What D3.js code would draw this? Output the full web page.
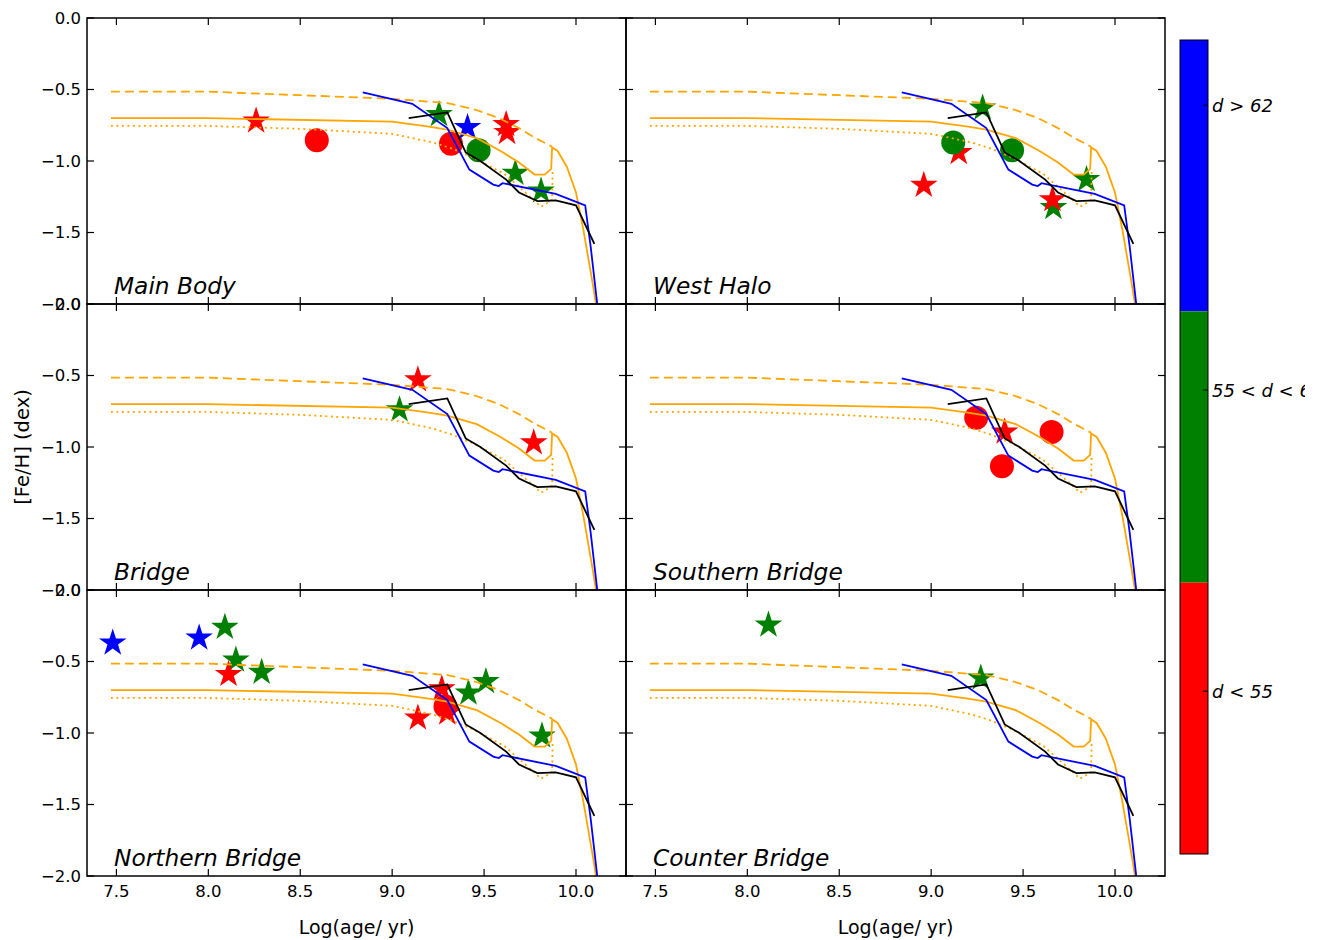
<!DOCTYPE html>
<html>
<head>
<meta charset="utf-8">
<script src="https://cdn.jsdelivr.net/npm/d3@7"></script>
<style>
  body { margin: 0; background: #fff; }
  text { font-family: "DejaVu Sans", sans-serif; }
</style>
</head>
<body>
<div id="chart"></div>
<script>
// Panel names, in reading order (left→right, top→bottom)
const panelNames = ['Main Body', 'West Halo', 'Bridge', 'Southern Bridge', 'Northern Bridge', 'Counter Bridge'];

const xTicks = [7.5, 8.0, 8.5, 9.0, 9.5, 10.0];
const yTicks = [0, -0.5, -1.0, -1.5, -2.0];

// Age-metallicity relations (same in every panel): [log age, [Fe/H]]
const orangeSolid = [[7.47,-0.70],[8.0,-0.70],[9.0,-0.725],[9.20,-0.76],[9.30,-0.78],[9.46,-0.84],[9.59,-0.93],
  [9.69,-1.01],[9.775,-1.095],[9.83,-1.095],[9.865,-1.055],[9.87,-0.905],[9.90,-0.93],[9.95,-1.04],
  [10.0,-1.22],[10.04,-1.48],[10.09,-1.85],[10.115,-2.05]];
const orangeDashed = [[7.47,-0.515],[8.0,-0.515],[8.5,-0.54],[9.0,-0.565],[9.3,-0.595],[9.45,-0.64],
  [9.58,-0.70],[9.69,-0.77],[9.78,-0.84],[9.87,-0.90]];
const orangeDotted = [[7.47,-0.755],[8.0,-0.755],[8.5,-0.775],[9.0,-0.81],[9.22,-0.87],[9.33,-0.915],
  [9.44,-0.975],[9.61,-1.09],[9.755,-1.255],[9.81,-1.32],[9.85,-1.29],[9.87,-1.27],[9.873,-1.06]];
const blueLine = [[8.84,-0.52],[9.11,-0.60],[9.30,-0.77],[9.42,-1.06],[9.55,-1.165],[9.58,-1.175],[9.60,-1.155],
  [9.89,-1.23],[10.05,-1.31],[10.08,-1.60],[10.12,-2.05]];
const blackLine = [[9.09,-0.70],[9.30,-0.66],[9.40,-0.94],[9.48,-1.0],[9.62,-1.13],[9.69,-1.22],[9.79,-1.28],
  [9.89,-1.275],[10.0,-1.31],[10.10,-1.58]];

// Clusters per panel: [log age, [Fe/H], distance class, marker]
const mainBody = [[8.26,-0.72,'near','star'],[8.59,-0.855,'near','circle'],[9.255,-0.675,'mid','star'],
  [9.32,-0.88,'near','circle'],[9.41,-0.765,'far','star'],[9.47,-0.925,'mid','circle'],
  [9.62,-0.745,'near','star'],[9.625,-0.80,'near','star'],[9.67,-1.085,'mid','star'],[9.81,-1.21,'mid','star']];
const westHalo = [[9.28,-0.63,'mid','star'],[9.15,-0.94,'near','star'],[9.12,-0.87,'mid','circle'],
  [8.96,-1.17,'near','star'],[9.44,-0.925,'mid','circle'],[9.845,-1.13,'mid','star'],
  [9.665,-1.325,'mid','star'],[9.66,-1.27,'near','star']];
const bridge = [[9.14,-0.53,'near','star'],[9.04,-0.74,'mid','star'],[9.77,-0.97,'near','star']];
const southernBridge = [[9.245,-0.795,'near','circle'],[9.40,-0.895,'near','star'],
  [9.655,-0.895,'near','circle'],[9.385,-1.135,'near','circle']];
const northernBridge = [[7.48,-0.37,'far','star'],[7.95,-0.335,'far','star'],[8.09,-0.26,'mid','star'],
  [8.15,-0.49,'mid','star'],[8.11,-0.59,'near','star'],[8.29,-0.575,'mid','star'],
  [9.27,-0.69,'near','star'],[9.29,-0.815,'near','circle'],[9.30,-0.86,'near','star'],
  [9.14,-0.895,'near','star'],[9.415,-0.72,'mid','star'],[9.51,-0.64,'mid','star'],[9.815,-1.02,'mid','star']];
const counterBridge = [[8.115,-0.245,'mid','star'],[9.27,-0.615,'mid','star']];
const panelData = [mainBody, westHalo, bridge, southernBridge, northernBridge, counterBridge];

// Colour bar classes, top to bottom, and their tick positions on a 0..3 bar
const cbClasses = ['far', 'mid', 'near'];
const cbColors = ['#0000ff', '#008000', '#ff0000'];
const cbLabels = ['d > 62', '55 < d < 62', 'd < 55'];
const cbTickPos = [2.76, 1.71, 0.60];

const W = 1322, H = 940;
const padLeft = 87, padTop = 18, pw = 539, ph = 286;
const tickLen = 7;

const colorOf = d3.scaleOrdinal().domain(cbClasses).range(cbColors);
const x = d3.scaleLinear().domain([7.34, 10.272]).range([0, pw]);
const y = d3.scaleLinear().domain([-2, 0]).range([ph, 0]);
const fmt = d3.format('.1f');

const svg = d3.select('#chart').append('svg')
  .attr('width', W).attr('height', H)
  .style('background', '#fff');

const defs = svg.append('defs');
defs.append('clipPath').attr('id', 'panelClip')
  .append('rect').attr('width', pw).attr('height', ph);
defs.append('clipPath').attr('id', 'cbClip')
  .append('rect').attr('x', 0).attr('y', 0).attr('width', 1305).attr('height', H);

const line = d3.line().x(d => x(d[0])).y(d => y(d[1]));

panelNames.forEach((name, i) => {
  const col = i % 2, row = Math.floor(i / 2);
  const g = svg.append('g')
    .attr('transform', `translate(${padLeft + col * pw},${padTop + row * ph})`);

  const plot = g.append('g').attr('clip-path', 'url(#panelClip)');

  // markers (drawn first, lines sit on top of them)
  plot.selectAll('path.marker')
    .data(panelData[i])
    .join('path')
    .attr('class', 'marker')
    .attr('transform', d => `translate(${x(d[0])},${y(d[1])})`)
    .attr('d', d => d[3] === 'star'
      ? d3.symbol(d3.symbolStar, 14.5 * 14.5 / 0.8908)()
      : d3.symbol(d3.symbolCircle, Math.PI * 12 * 12)())
    .attr('fill', d => colorOf(d[2]));

  // model tracks
  const tracks = [
    { data: orangeDotted, color: 'orange', dash: '2,3.5' },
    { data: orangeDashed, color: 'orange', dash: '9,5' },
    { data: orangeSolid, color: 'orange', dash: null },
    { data: blueLine, color: '#0000ff', dash: null },
    { data: blackLine, color: '#000', dash: null }
  ];
  tracks.forEach(t => {
    plot.append('path')
      .attr('d', line(t.data))
      .attr('fill', 'none')
      .attr('stroke', t.color)
      .attr('stroke-width', 1.8)
      .attr('stroke-dasharray', t.dash);
  });

  // inward ticks on all four sides
  const tk = g.append('g').attr('stroke', '#000').attr('stroke-width', 1.2);
  xTicks.forEach(v => {
    tk.append('line').attr('x1', x(v)).attr('x2', x(v)).attr('y1', ph).attr('y2', ph - tickLen);
    tk.append('line').attr('x1', x(v)).attr('x2', x(v)).attr('y1', 0).attr('y2', tickLen);
  });
  yTicks.forEach(v => {
    tk.append('line').attr('x1', 0).attr('x2', tickLen).attr('y1', y(v)).attr('y2', y(v));
    tk.append('line').attr('x1', pw).attr('x2', pw - tickLen).attr('y1', y(v)).attr('y2', y(v));
  });

  // frame
  g.append('rect')
    .attr('width', pw).attr('height', ph)
    .attr('fill', 'none').attr('stroke', '#000').attr('stroke-width', 1.5);

  // tick labels
  if (col === 0) {
    g.selectAll('text.ylab')
      .data(yTicks)
      .join('text')
      .attr('class', 'ylab')
      .attr('x', -6)
      .attr('y', d => y(d))
      .attr('dy', '0.36em')
      .attr('text-anchor', 'end')
      .attr('font-size', 16.5)
      .attr('fill', '#000')
      .text(d => fmt(d));
  }
  if (row === 2) {
    g.selectAll('text.xlab')
      .data(xTicks)
      .join('text')
      .attr('class', 'xlab')
      .attr('x', d => x(d))
      .attr('y', ph + 21)
      .attr('text-anchor', 'middle')
      .attr('font-size', 16.5)
      .attr('fill', '#000')
      .text(d => fmt(d));
    g.append('text')
      .attr('x', pw / 2)
      .attr('y', ph + 58)
      .attr('text-anchor', 'middle')
      .attr('font-size', 19)
      .attr('fill', '#000')
      .text('Log(age/ yr)');
  }

  // region name
  g.append('text')
    .attr('x', 27)
    .attr('y', ph - 10)
    .attr('font-size', 23.3)
    .attr('font-style', 'italic')
    .attr('fill', '#000')
    .text(name);
});

// y axis title
svg.append('text')
  .attr('transform', `translate(29,${padTop + 1.5 * ph}) rotate(-90)`)
  .attr('text-anchor', 'middle')
  .attr('font-size', 19.5)
  .attr('fill', '#000')
  .text('[Fe/H] (dex)');

// colour bar
const cbX = 1180, cbW = 28, cbTop = 40, cbBot = 854;
const cb = d3.scaleLinear().domain([0, 3]).range([cbBot, cbTop]);
const cbg = svg.append('g');
cbClasses.forEach((c, i) => {
  cbg.append('rect')
    .attr('x', cbX).attr('y', cb(3 - i)).attr('width', cbW).attr('height', cb(2 - i) - cb(3 - i))
    .attr('fill', cbColors[i]);
});
cbg.append('rect')
  .attr('x', cbX).attr('y', cbTop).attr('width', cbW).attr('height', cbBot - cbTop)
  .attr('fill', 'none').attr('stroke', '#000').attr('stroke-width', 1);

cbTickPos.forEach((p, i) => {
  cbg.append('line')
    .attr('x1', cbX + cbW - 5).attr('x2', cbX + cbW)
    .attr('y1', cb(p)).attr('y2', cb(p))
    .attr('stroke', '#000').attr('stroke-width', 1);
  cbg.append('text')
    .attr('clip-path', 'url(#cbClip)')
    .attr('x', cbX + cbW + 4)
    .attr('y', cb(p))
    .attr('dy', '0.36em')
    .attr('font-size', 18)
    .attr('font-style', 'italic')
    .attr('fill', '#000')
    .text(cbLabels[i]);
});
</script>
</body>
</html>
